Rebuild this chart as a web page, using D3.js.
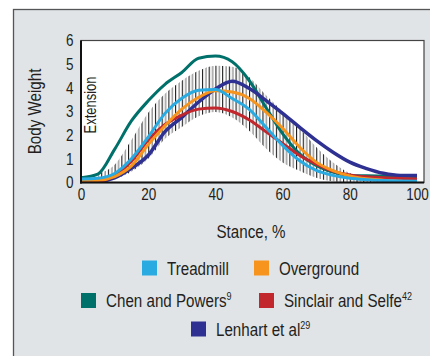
<!DOCTYPE html>
<html>
<head>
<meta charset="utf-8">
<script src="https://cdn.jsdelivr.net/npm/d3@7"></script>
<style>
  body { margin: 0; background: #fff; }
  svg text { font-family: "Liberation Sans", Arial, sans-serif; fill: #231f20; }
</style>
</head>
<body>
<svg id="chart" width="430" height="356"></svg>
<script>
// stance (%) sample points for the curves
const stance = [0, 5, 10, 15, 20, 25, 30, 35, 40, 45, 50, 55, 60, 65, 70, 75, 80, 85, 90, 95, 100];

const treadmill = [0.15, 0.18, 0.38, 1.0, 1.92, 2.92, 3.56, 3.9, 3.93, 3.55, 3.1, 2.34, 1.57, 0.93, 0.51, 0.3, 0.18, 0.12, 0.08, 0.06, 0.05];
const overground = [0.1, 0.1, 0.25, 0.7, 1.6, 2.4, 3.1, 3.6, 3.88, 3.82, 3.56, 2.98, 2.29, 1.5, 0.86, 0.5, 0.28, 0.16, 0.1, 0.05, 0.02];
const chenPowers = [0.2, 0.35, 1.4, 2.6, 3.45, 4.15, 4.65, 5.25, 5.34, 5.1, 4.32, 3.18, 2.07, 1.22, 0.72, 0.44, 0.3, 0.28, 0.27, 0.26, 0.25];
const sinclairSelfe = [0.05, 0.05, 0.3, 0.9, 1.8, 2.45, 2.85, 3.1, 3.15, 3.0, 2.65, 2.15, 1.65, 1.15, 0.78, 0.48, 0.32, 0.24, 0.2, 0.17, 0.15];
const lenhart = [0.1, 0.05, 0.2, 0.6, 1.15, 2.15, 2.75, 3.4, 3.95, 4.28, 3.98, 3.47, 2.92, 2.34, 1.78, 1.28, 0.86, 0.59, 0.39, 0.3, 0.3];

// hatched SD band
const bandStance = [5, 10, 15, 20, 25, 30, 35, 40, 45, 50, 55, 60, 65, 70, 75, 80, 85, 90];
const bandHi = [0.38, 0.75, 1.8, 2.95, 3.75, 4.3, 4.72, 4.93, 4.89, 4.46, 3.7, 3.0, 2.3, 1.5, 0.85, 0.4, 0.15, 0.05];
const bandLo = [0.0, 0.15, 0.45, 1.0, 1.85, 2.35, 2.8, 2.98, 2.75, 2.2, 1.45, 0.85, 0.5, 0.2, 0.05, 0.0, 0.0, 0.0];

const xTicks = [0, 20, 40, 60, 80, 100];
const yTicks = [0, 1, 2, 3, 4, 5, 6];

const series = [
  { name: "Chen and Powers", sup: "9", color: "#00706b", values: chenPowers, width: 3 },
  { name: "Lenhart et al", sup: "29", color: "#2e3192", values: lenhart, width: 3.5 },
  { name: "Sinclair and Selfe", sup: "42", color: "#c1272d", values: sinclairSelfe, width: 3 },
  { name: "Overground", sup: "", color: "#f7941d", values: overground, width: 3 },
  { name: "Treadmill", sup: "", color: "#29abe2", values: treadmill, width: 3 },
];

const NARROW = 0.82; // condensed look

const svg = d3.select("#chart");

// panel background
svg.append("rect").attr("x", 13.5).attr("y", 9.5).attr("width", 430).attr("height", 360)
  .attr("fill", "#e1e4e7").attr("stroke", "#555").attr("stroke-width", 1.3);

const x = d3.scaleLinear().domain([0, 100]).range([81, 417]);
const y = d3.scaleLinear().domain([0, 6]).range([182.5, 40.5]);
const plotRight = 424;

// plot area
svg.append("rect").attr("x", x(0)).attr("y", y(6)).attr("width", plotRight - x(0)).attr("height", y(0) - y(6))
  .attr("fill", "#fff").attr("stroke", "#444").attr("stroke-width", 1.2);

const clip = svg.append("clipPath").attr("id", "plotClip");
clip.append("rect").attr("x", x(0)).attr("y", y(6)).attr("width", plotRight - x(0) + 2).attr("height", y(0) - y(6));

// hatch pattern: alternating dark and grey vertical strokes, one per 1% stance
const step = x(1) - x(0);
const pat = svg.append("defs").append("pattern").attr("id", "hatch")
  .attr("patternUnits", "userSpaceOnUse").attr("x", x(0)).attr("y", 0)
  .attr("width", step * 2).attr("height", 10);
pat.append("rect").attr("x", 0).attr("y", 0).attr("width", 1.1).attr("height", 10).attr("fill", "#1a1a1a");
pat.append("rect").attr("x", step).attr("y", 0).attr("width", 1.3).attr("height", 10).attr("fill", "#8a8a8a");

const band = d3.area()
  .x((d, i) => x(bandStance[i]))
  .y0((d, i) => y(bandLo[i]))
  .y1((d, i) => y(bandHi[i]))
  .curve(d3.curveMonotoneX);
svg.append("path").datum(bandStance).attr("d", band).attr("fill", "url(#hatch)");

// curves
const line = d3.line().x((d, i) => x(stance[i])).y(d => y(d)).curve(d3.curveMonotoneX);
const gLines = svg.append("g").attr("clip-path", "url(#plotClip)");
for (const s of series) {
  gLines.append("path").datum(s.values).attr("d", line)
    .attr("fill", "none").attr("stroke", s.color).attr("stroke-width", s.width)
    .attr("stroke-linejoin", "round");
}

// axes lines (left + bottom heavier)
svg.append("line").attr("x1", x(0)).attr("x2", x(0)).attr("y1", y(6)).attr("y2", y(0) + 1)
  .attr("stroke", "#111").attr("stroke-width", 2);
svg.append("line").attr("x1", x(0) - 1).attr("x2", plotRight).attr("y1", y(0)).attr("y2", y(0))
  .attr("stroke", "#111").attr("stroke-width", 2);

svg.append("g").attr("transform", `translate(${x(0)},0)`)
  .call(d3.axisLeft(y).tickValues(yTicks).tickFormat(d3.format("d")).tickSize(0).tickPadding(8))
  .call(ax => ax.select(".domain").remove())
  .call(ax => ax.selectAll("text")
    .attr("x", -7.5 / NARROW).attr("transform", `scale(${NARROW},1)`)
    .attr("font-size", "16.5px").attr("font-family", null).attr("fill", "#231f20"));

svg.append("g").attr("transform", `translate(0,${y(0)})`)
  .call(d3.axisBottom(x).tickValues(xTicks).tickFormat(d3.format("d")).tickSize(0).tickPadding(6))
  .call(ax => ax.select(".domain").remove())
  .call(ax => ax.selectAll("text").attr("transform", `scale(${NARROW},1)`)
    .attr("font-size", "16.5px").attr("font-family", null).attr("fill", "#231f20"));

// helper for condensed text
function narrowText(transform, size, anchor) {
  return svg.append("g").attr("transform", `${transform} scale(${NARROW},1)`)
    .append("text").attr("text-anchor", anchor).attr("font-size", size);
}

// axis titles
narrowText("translate(41,111.5) rotate(-90)", "18.5px", "middle").text("Body Weight");
narrowText("translate(251,238)", "18.5px", "middle").text("Stance, %");
narrowText("translate(96,105) rotate(-90)", "15.8px", "middle").text("Extension");

// legend
const legendPos = {
  "Treadmill": [142, 268],
  "Overground": [254, 268],
  "Chen and Powers": [81, 300.5],
  "Sinclair and Selfe": [259, 300.5],
  "Lenhart et al": [191, 329],
};
for (const s of series) {
  const [lx, ly] = legendPos[s.name];
  svg.append("rect").attr("x", lx).attr("y", ly - 7.5).attr("width", 15).attr("height", 15).attr("fill", s.color);
  const t = narrowText(`translate(${lx + 25},${ly + 6.5})`, "18.5px", "start");
  t.append("tspan").text(s.name);
  if (s.sup) t.append("tspan").attr("font-size", "11px").attr("dy", -7).text(s.sup);
}
</script>
</body>
</html>
